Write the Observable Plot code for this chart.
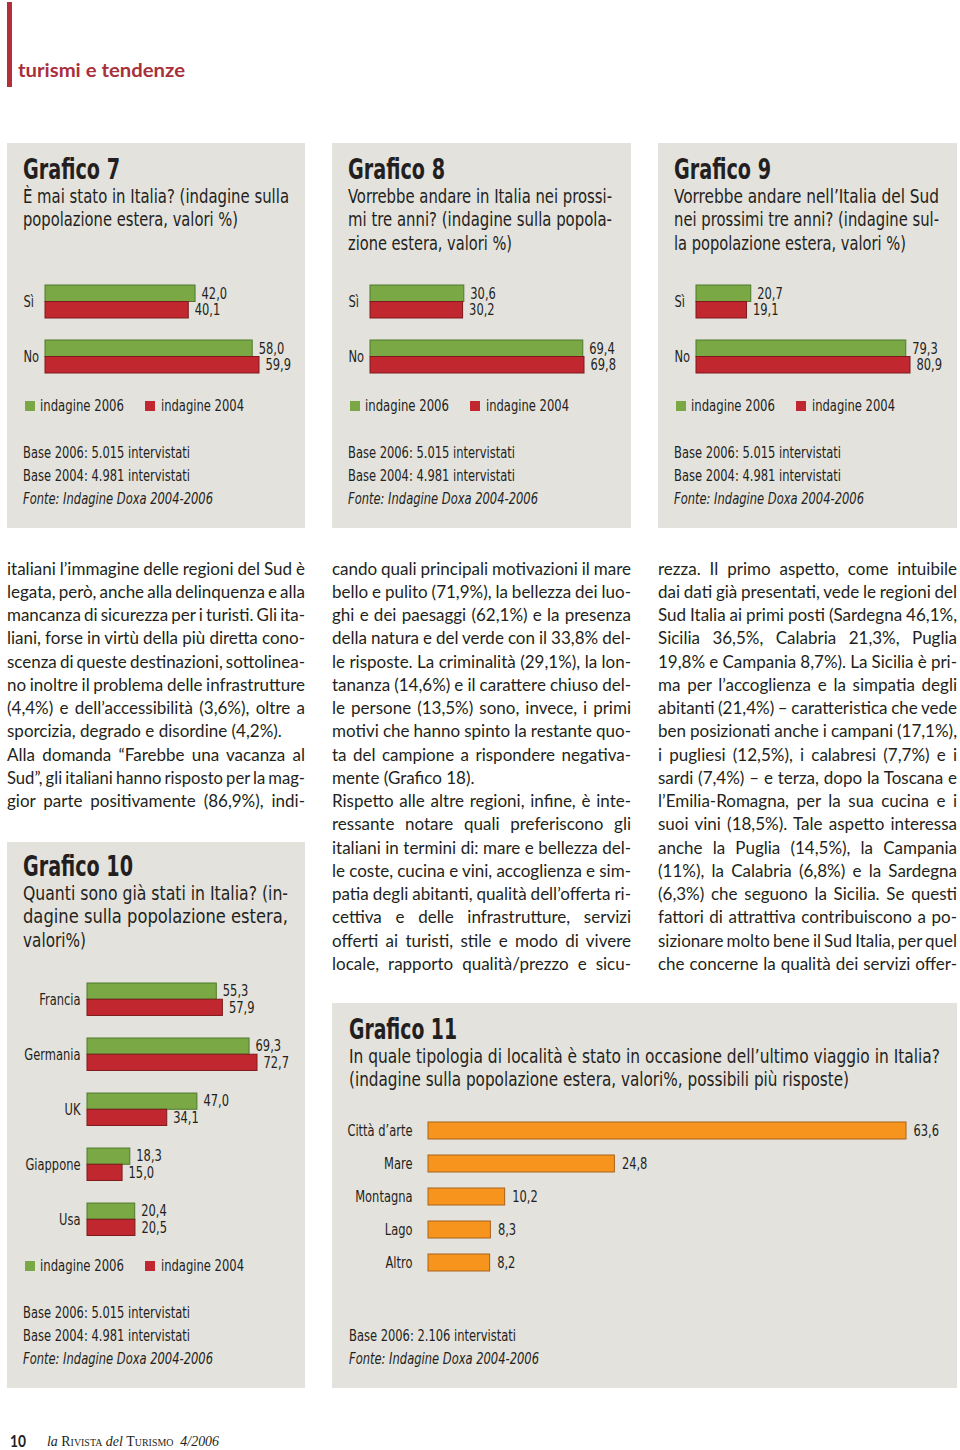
<!DOCTYPE html>
<html>
<head>
<meta charset="utf-8">
<script src="https://cdn.jsdelivr.net/npm/d3@7"></script>
<script src="https://cdn.jsdelivr.net/npm/@observablehq/plot@0.6"></script>
<style>
  html, body { margin: 0; padding: 0; background: #fff; }
  #page { position: relative; width: 960px; height: 1450px; overflow: hidden; background: #fff; color: #231f20; }
  .t { position: absolute; white-space: nowrap; transform-origin: 0 50%; }
  .panel { position: absolute; background: #e3e2dd; }
  .chart { position: absolute; }
  .sq { position: absolute; width: 10px; height: 10px; }
</style>
</head>
<body>
<div id="page"></div>
<script>
// ---------------- DATA ----------------
const yesNo = ["Sì", "No"];
const g7_2006 = [42.0, 58.0];
const g7_2004 = [40.1, 59.9];
const g8_2006 = [30.6, 69.4];
const g8_2004 = [30.2, 69.8];
const g9_2006 = [20.7, 79.3];
const g9_2004 = [19.1, 80.9];
const g10_countries = ["Francia", "Germania", "UK", "Giappone", "Usa"];
const g10_2006 = [55.3, 69.3, 47.0, 18.3, 20.4];
const g10_2004 = [57.9, 72.7, 34.1, 15.0, 20.5];
const g11_types = ["Città d’arte", "Mare", "Montagna", "Lago", "Altro"];
const g11_values = [63.6, 24.8, 10.2, 8.3, 8.2];
const legendLabels = ["indagine 2006", "indagine 2004"];

// ---------------- STYLE ----------------
const COND = '"Liberation Sans Narrow", "DejaVu Sans Condensed", "Roboto", "Liberation Sans", sans-serif';
const BODY = 'Lato, "Open Sans", "Noto Sans", sans-serif';
const SERIF = '"Liberation Serif", "DejaVu Serif", serif';
const INK = "#231f20";
const GREEN = "#79a845", GREEN_D = "#4f7a2c";
const RED = "#c1272f", RED_D = "#7e1a1e";
const ORANGE = "#f7941e", ORANGE_D = "#a9621a";
const SVG_TEXT_SQUEEZE = 0.85;

const page = document.getElementById("page");
const fmt = v => v.toFixed(1).replace(".", ",");

function txt(x, yc, s, o = {}) {
  const size = o.size || 15, lh = o.lh || Math.round(size * 1.3);
  const d = document.createElement("div");
  d.className = "t";
  d.textContent = s;
  d.style.left = x + "px";
  d.style.top = (yc - lh / 2) + "px";
  d.style.lineHeight = lh + "px";
  d.style.fontSize = size + "px";
  d.style.fontFamily = o.font || COND;
  d.style.fontWeight = o.weight || "normal";
  d.style.fontStyle = o.italic ? "italic" : "normal";
  d.style.color = o.color || INK;
  if (o.ls) d.style.letterSpacing = o.ls + "px";
  page.appendChild(d);
  if (o.w) {
    const w0 = d.getBoundingClientRect().width;
    if (w0 > 0) d.style.transform = `scaleX(${o.w / w0})`;
  }
  return d;
}

function bodyLine(x, yc, s, W, justify) {
  const d = document.createElement("div");
  d.className = "t";
  d.textContent = s;
  d.style.left = x + "px";
  d.style.top = (yc - 11.5) + "px";
  d.style.lineHeight = "23px";
  d.style.fontSize = "17px";
  d.style.fontFamily = BODY;
  d.style.color = INK;
  page.appendChild(d);
  const w0 = d.getBoundingClientRect().width;
  const n = (s.match(/ /g) || []).length;
  if (justify && n > 0) {
    const extra = (W - w0) / n;
    if (extra >= -1.2) {
      d.style.wordSpacing = extra + "px";
    } else {
      d.style.wordSpacing = "-1.2px";
      const w1 = d.getBoundingClientRect().width;
      d.style.transform = `scaleX(${W / w1})`;
    }
  } else if (w0 > W) {
    d.style.transform = `scaleX(${W / w0})`;
  }
}

function panel(x, y, w, h) {
  const d = document.createElement("div");
  d.className = "panel";
  Object.assign(d.style, { left: x + "px", top: y + "px", width: w + "px", height: h + "px" });
  page.appendChild(d);
}

function square(x, yc, color) {
  const d = document.createElement("div");
  d.className = "sq";
  Object.assign(d.style, { left: x + "px", top: (yc - 5) + "px", background: color });
  page.appendChild(d);
}

function place(svg, left, top) {
  const wrap = document.createElement("div");
  wrap.className = "chart";
  wrap.style.left = left + "px";
  wrap.style.top = top + "px";
  wrap.appendChild(svg);
  page.appendChild(wrap);
  // condensed look for the chart labels
  svg.querySelectorAll("text").forEach(t => {
    const L = t.getComputedTextLength();
    if (L > 0) {
      t.setAttribute("textLength", (L * SVG_TEXT_SQUEEZE).toFixed(2));
      t.setAttribute("lengthAdjust", "spacingAndGlyphs");
    }
  });
}

// paired (2006 / 2004) horizontal bars
function pairChart(cats, v06, v04, c) {
  const rows06 = cats.map((k, i) => ({ cat: k, value: v06[i] }));
  const rows04 = cats.map((k, i) => ({ cat: k, value: v04[i] }));
  const L = c.height - c.mT - c.mB;
  const step = L / (cats.length - c.p);
  const bw = step * (1 - c.p);
  const marks = [
    Plot.barX(rows06, { x: "value", y: "cat", fill: GREEN, stroke: GREEN_D, strokeWidth: 1, insetBottom: bw / 2 }),
    Plot.barX(rows04, { x: "value", y: "cat", fill: RED, stroke: RED_D, strokeWidth: 1, insetTop: bw / 2 }),
    Plot.text(rows06, { x: "value", y: "cat", text: d => fmt(d.value), dx: 6, dy: -bw / 4, textAnchor: "start", fill: INK, fontSize: 15 }),
    Plot.text(rows04, { x: "value", y: "cat", text: d => fmt(d.value), dx: 6, dy: bw / 4, textAnchor: "start", fill: INK, fontSize: 15 })
  ];
  if (c.leftLabels) {
    marks.push(Plot.text(cats, { y: d => d, text: d => d, frameAnchor: "left", textAnchor: "start", dx: 16 - c.mL, fill: INK, fontSize: 15 }));
  }
  const svg = Plot.plot({
    width: c.width, height: c.height,
    marginLeft: c.mL, marginRight: c.width - c.mL - c.xw, marginTop: c.mT, marginBottom: c.mB,
    x: { domain: [0, d3.max([...v06, ...v04])], axis: null },
    y: c.leftLabels
      ? { domain: cats, paddingInner: c.p, paddingOuter: 0, round: false, axis: null }
      : { domain: cats, paddingInner: c.p, paddingOuter: 0, round: false, axis: "left", tickSize: 0, tickPadding: c.tickPadding, label: null },
    style: { background: "transparent", overflow: "visible", fontFamily: COND, fontSize: "15px", color: INK },
    marks
  });
  place(svg, c.left, c.top);
}

function legend(px, yc) {
  square(px + 18, yc, GREEN);
  txt(px + 33, yc, legendLabels[0], { size: 15, w: 84 });
  square(px + 138, yc, RED);
  txt(px + 154, yc, legendLabels[1], { size: 15, w: 83 });
}

function bases(px, y0, lines) {
  lines.forEach((s, i) => {
    const italic = s.startsWith("Fonte");
    txt(px + 16, y0 + i * 23.2, s, { size: 15, italic, w: italic ? 190 : 167 });
  });
}

// ---------------- HEADER ----------------
(() => {
  const bar = document.createElement("div");
  Object.assign(bar.style, { position: "absolute", left: "7px", top: "2px", width: "5px", height: "85px", background: "#b3303b" });
  page.appendChild(bar);
  txt(18, 70, "turismi e tendenze", { size: 18, font: BODY, weight: "bold", color: "#a8303b", w: 167 });
})();

// ---------------- PANELS ----------------
panel(7, 143, 298, 385);
panel(332, 143, 299, 385);
panel(658, 143, 299, 385);
panel(7, 842, 298, 546);
panel(332, 1003, 625, 385);

const topPanels = [
  { x: 7, title: "Grafico 7", sub: [["È mai stato in Italia? (indagine sulla", 266], ["popolazione estera, valori %)", 215]], d06: g7_2006, d04: g7_2004 },
  { x: 332, title: "Grafico 8", sub: [["Vorrebbe andare in Italia nei prossi-", 264], ["mi tre anni? (indagine sulla popola-", 264], ["zione estera, valori %)", 164]], d06: g8_2006, d04: g8_2004 },
  { x: 658, title: "Grafico 9", sub: [["Vorrebbe andare nell’Italia del Sud", 265], ["nei prossimi tre anni? (indagine sul-", 265], ["la popolazione estera, valori %)", 232]], d06: g9_2006, d04: g9_2004 }
];

const baseLines = ["Base 2006: 5.015 intervistati", "Base 2004: 4.981 intervistati", "Fonte: Indagine Doxa 2004-2006"];

topPanels.forEach(P => {
  txt(P.x + 16, 170, P.title, { size: 28, weight: "bold", w: 97 });
  P.sub.forEach(([s, w], i) => txt(P.x + 16, 196 + i * 23.5, s, { size: 19, w }));
  pairChart(yesNo, P.d06, P.d04, { left: P.x, top: 270, width: 298, height: 120, mT: 15, mB: 17, mL: 38, xw: 214, p: 0.4, leftLabels: true });
  legend(P.x, 406);
  bases(P.x, 453, baseLines);
});

// ---------------- GRAFICO 10 ----------------
txt(23, 867, "Grafico 10", { size: 28, weight: "bold", w: 110 });
[["Quanti sono già stati in Italia? (in-", 265], ["dagine sulla popolazione estera,", 265], ["valori%)", 63]]
  .forEach(([s, w], i) => txt(23, 893 + i * 23.5, s, { size: 19, w }));
pairChart(g10_countries, g10_2006, g10_2004, { left: 7, top: 970, width: 298, height: 280, mT: 13, mB: 14.5, mL: 80, xw: 170, p: 0.41, leftLabels: false, tickPadding: 7 });
legend(7, 1266);
bases(7, 1313, baseLines);

// ---------------- GRAFICO 11 ----------------
txt(349, 1030, "Grafico 11", { size: 28, weight: "bold", w: 108 });
txt(349, 1056, "In quale tipologia di località è stato in occasione dell’ultimo viaggio in Italia?", { size: 19, w: 591 });
txt(349, 1079.5, "(indagine sulla popolazione estera, valori%, possibili più risposte)", { size: 19, w: 500 });
(() => {
  const rows = g11_types.map((k, i) => ({ cat: k, value: g11_values[i] }));
  const svg = Plot.plot({
    width: 625, height: 175,
    marginLeft: 96, marginRight: 625 - 96 - 478, marginTop: 12, marginBottom: 14,
    x: { domain: [0, d3.max(g11_values)], axis: null },
    y: { domain: g11_types, paddingInner: 0.485, paddingOuter: 0, round: false, axis: "left", tickSize: 0, tickPadding: 16, label: null },
    style: { background: "transparent", overflow: "visible", fontFamily: COND, fontSize: "15px", color: INK },
    marks: [
      Plot.barX(rows, { x: "value", y: "cat", fill: ORANGE, stroke: ORANGE_D, strokeWidth: 1 }),
      Plot.text(rows, { x: "value", y: "cat", text: d => fmt(d.value), dx: 7, textAnchor: "start", fill: INK, fontSize: 15 })
    ]
  });
  place(svg, 332, 1110);
})();
txt(349, 1336, "Base 2006: 2.106 intervistati", { size: 15, w: 167 });
txt(349, 1359, "Fonte: Indagine Doxa 2004-2006", { size: 15, italic: true, w: 190 });

// ---------------- BODY TEXT ----------------
const col1 = [
  ["italiani l’immagine delle regioni del Sud è", 1],
  ["legata, però, anche alla delinquenza e alla", 1],
  ["mancanza di sicurezza per i turisti. Gli ita-", 1],
  ["liani, forse in virtù della più diretta cono-", 1],
  ["scenza di queste destinazioni, sottolinea-", 1],
  ["no inoltre il problema delle infrastrutture", 1],
  ["(4,4%) e dell’accessibilità (3,6%), oltre a", 1],
  ["sporcizia, degrado e disordine (4,2%).", 0],
  ["Alla domanda “Farebbe una vacanza al", 1],
  ["Sud”, gli italiani hanno risposto per la mag-", 1],
  ["gior parte positivamente (86,9%), indi-", 1]
];
const col2 = [
  ["cando quali principali motivazioni il mare", 1],
  ["bello e pulito (71,9%), la bellezza dei luo-", 1],
  ["ghi e dei paesaggi (62,1%) e la presenza", 1],
  ["della natura e del verde con il 33,8% del-", 1],
  ["le risposte. La criminalità (29,1%), la lon-", 1],
  ["tananza (14,6%) e il carattere chiuso del-", 1],
  ["le persone (13,5%) sono, invece, i primi", 1],
  ["motivi che hanno spinto la restante quo-", 1],
  ["ta del campione a rispondere negativa-", 1],
  ["mente (Grafico 18).", 0],
  ["Rispetto alle altre regioni, infine, è inte-", 1],
  ["ressante notare quali preferiscono gli", 1],
  ["italiani in termini di: mare e bellezza del-", 1],
  ["le coste, cucina e vini, accoglienza e sim-", 1],
  ["patia degli abitanti, qualità dell’offerta ri-", 1],
  ["cettiva e delle infrastrutture, servizi", 1],
  ["offerti ai turisti, stile e modo di vivere", 1],
  ["locale, rapporto qualità/prezzo e sicu-", 1]
];
const col3 = [
  ["rezza. Il primo aspetto, come intuibile", 1],
  ["dai dati già presentati, vede le regioni del", 1],
  ["Sud Italia ai primi posti (Sardegna 46,1%,", 1],
  ["Sicilia 36,5%, Calabria 21,3%, Puglia", 1],
  ["19,8% e Campania 8,7%). La Sicilia è pri-", 1],
  ["ma per l’accoglienza e la simpatia degli", 1],
  ["abitanti (21,4%) – caratteristica che vede", 1],
  ["ben posizionati anche i campani (17,1%),", 1],
  ["i pugliesi (12,5%), i calabresi (7,7%) e i", 1],
  ["sardi (7,4%) – e terza, dopo la Toscana e", 1],
  ["l’Emilia-Romagna, per la sua cucina e i", 1],
  ["suoi vini (18,5%). Tale aspetto interessa", 1],
  ["anche la Puglia (14,5%), la Campania", 1],
  ["(11%), la Calabria (6,8%) e la Sardegna", 1],
  ["(6,3%) che seguono la Sicilia. Se questi", 1],
  ["fattori di attrattiva contribuiscono a po-", 1],
  ["sizionare molto bene il Sud Italia, per quel", 1],
  ["che concerne la qualità dei servizi offer-", 1]
];
col1.forEach(([s, j], i) => bodyLine(7, 568 + i * 23.25, s, 298, j));
col2.forEach(([s, j], i) => bodyLine(332, 568 + i * 23.25, s, 299, j));
col3.forEach(([s, j], i) => bodyLine(658, 568 + i * 23.25, s, 299, j));

// ---------------- FOOTER ----------------
txt(10, 1441, "10", { size: 17, font: BODY, weight: "bold", w: 16 });
(() => {
  const d = document.createElement("div");
  d.className = "t";
  d.style.left = "47px";
  d.style.top = (1442 - 10) + "px";
  d.style.lineHeight = "20px";
  d.style.fontSize = "14px";
  d.style.fontFamily = SERIF;
  d.style.color = INK;
  d.innerHTML = '<i>la</i> <span style="font-variant:small-caps">Rivista</span> <i>del</i> <span style="font-variant:small-caps">Turismo</span>&nbsp;&nbsp;<i>4/2006</i>';
  page.appendChild(d);
  const w0 = d.getBoundingClientRect().width;
  d.style.transform = `scaleX(${172 / w0})`;
})();
</script>
</body>
</html>
